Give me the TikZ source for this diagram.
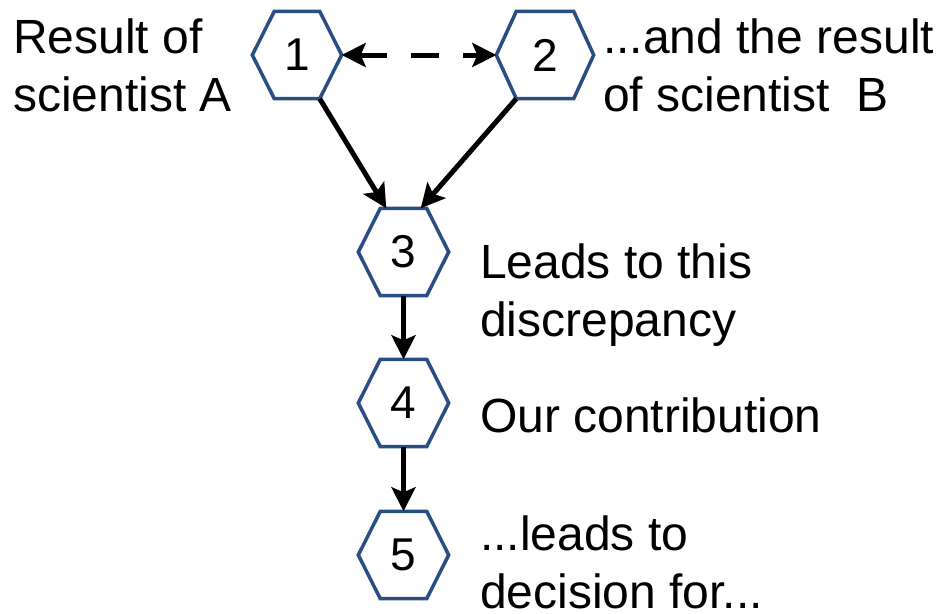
\documentclass[tikz,border=0pt]{standalone}
\usepackage{fontspec}
\setmainfont{Liberation Sans}
\usetikzlibrary{arrows.meta}
\definecolor{hexblue}{RGB}{40,78,130}
\begin{document}
\begin{tikzpicture}[x=1pt,y=-1pt,
  hexbox/.style={minimum height=87pt, inner sep=0pt, font=\fontsize{46}{52}\selectfont},
  hexline/.style={draw=hexblue, line width=3.5pt, line join=miter},
  lbl/.style={anchor=base west, inner sep=0pt, align=left, font=\fontsize{48}{58}\selectfont},
  arr/.style={line width=5pt, -{Stealth[length=24pt,width=24pt,inset=5pt]}},
  dasharr/.style={line width=5pt, dash pattern=on 28pt off 24pt, {Stealth[length=24pt,width=24pt,inset=5pt]}-{Stealth[length=24pt,width=24pt,inset=5pt]}}
]
\useasboundingbox (0,0) rectangle (942,613);
\node[hexbox, minimum width=89pt] (h1) at (297,55) {1};
\node[hexbox, minimum width=97pt] (h2) at (545,55) {2};
\node[hexbox, minimum width=90pt] (h3) at (403.5,252) {3};
\node[hexbox, minimum width=90pt] (h4) at (403.5,403) {4};
\node[hexbox, minimum width=90pt] (h5) at (403.5,555) {5};
\foreach \n/\d in {h1/22,h2/20,h3/22,h4/22,h5/22}
  \draw[hexline] (\n.west) -- ([xshift=\d pt]\n.north west) -- ([xshift=-\d pt]\n.north east)
    -- (\n.east) -- ([xshift=-\d pt]\n.south east) -- ([xshift=\d pt]\n.south west) -- cycle;
\node[lbl] (tA) at (13,111) {Result of\\scientist A};
\node[lbl] (tB) at (603,111) {...and the result\\of scientist\ \ B};
\node[lbl] (t3) at (480,336) {Leads to this\\discrepancy};
\node[lbl] (t4) at (480,432) {Our contribution};
\node[lbl] (t5) at (480,608) {...leads to\\decision for...};
\draw[dasharr] (h1.east) -- (h2.west);
\draw[arr] ([xshift=-22pt]h1.south east) -- ([xshift=28pt]h3.north west);
\draw[arr] ([xshift=20pt]h2.south west) -- ([xshift=-28pt]h3.north east);
\draw[arr] (h3.south) -- (h4.north);
\draw[arr] (h4.south) -- (h5.north);
\end{tikzpicture}
\end{document}
